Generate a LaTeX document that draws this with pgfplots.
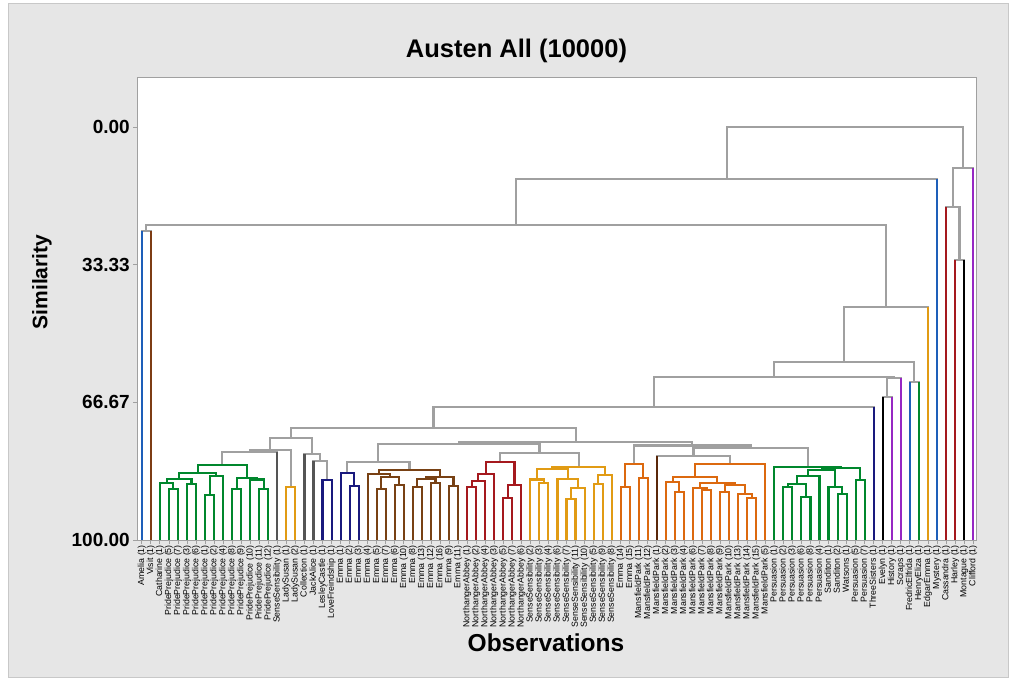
\documentclass[border=0pt]{standalone}
\usepackage{pgfplots}
\pgfplotsset{compat=1.18}
\usepackage{fontspec}
\setmainfont{Liberation Sans}
\definecolor{bggrey}{RGB}{230,230,230}
\definecolor{bordergrey}{RGB}{200,200,200}
\definecolor{framegrey}{RGB}{160,160,160}
\definecolor{lg}{RGB}{160,160,160}
\definecolor{blueC}{RGB}{30,95,185}
\definecolor{visitbrown}{RGB}{125,60,20}
\definecolor{greenC}{RGB}{0,135,45}
\definecolor{dgrey}{RGB}{85,85,85}
\definecolor{goldC}{RGB}{225,155,20}
\definecolor{navyC}{RGB}{25,25,125}
\definecolor{brownC}{RGB}{120,65,20}
\definecolor{redC}{RGB}{165,25,30}
\definecolor{orangeC}{RGB}{220,105,15}
\definecolor{dbrown}{RGB}{90,40,10}
\definecolor{purpleC}{RGB}{150,40,195}
% merge: colour, xL, hL, xR, hR, h
\newcommand{\M}[6]{\addplot[#1, line width=2.1pt, line join=miter, mark=none] coordinates {(#2,#3) (#2,#6) (#4,#6) (#4,#5)};}
% singleton leaf: colour, x, h
\newcommand{\V}[3]{\addplot[#1, line width=2.1pt, mark=none] coordinates {(#2,100) (#2,#3)};}
\begin{document}
\begin{tikzpicture}
\fill[white] (0pt,0pt) rectangle (1015pt,680pt);
\fill[bggrey, draw=bordergrey] (8pt,3pt) rectangle (1008pt,677pt);
\begin{axis}[
  at={(137.3pt,140pt)}, anchor=south west, scale only axis,
  width=839.4pt, height=462pt,
  xmin=0.5, xmax=93.4, ymin=-11.86, ymax=100, y dir=reverse,
  axis background/.style={fill=white},
  axis line style={draw=framegrey, line width=1pt},
  xtick={1,...,93},
  xticklabels={Amelia (1),Visit (1),Catharine (1),PridePrejudice (5),PridePrejudice (7),PridePrejudice (3),PridePrejudice (6),PridePrejudice (1),PridePrejudice (2),PridePrejudice (4),PridePrejudice (8),PridePrejudice (9),PridePrejudice (10),PridePrejudice (11),PridePrejudice (12),SenseSensibility (1),LadySusan (1),LadySusan (2),Collection (1),JackAlice (1),LesleyCastle (1),LoveFreindship (1),Emma (1),Emma (2),Emma (3),Emma (4),Emma (5),Emma (7),Emma (6),Emma (10),Emma (8),Emma (13),Emma (12),Emma (16),Emma (9),Emma (11),NorthangerAbbey (1),NorthangerAbbey (2),NorthangerAbbey (4),NorthangerAbbey (3),NorthangerAbbey (5),NorthangerAbbey (7),NorthangerAbbey (6),SenseSensibility (2),SenseSensibility (3),SenseSensibility (4),SenseSensibility (6),SenseSensibility (7),SenseSensibility (11),SenseSensibility (10),SenseSensibility (5),SenseSensibility (9),SenseSensibility (8),Emma (14),Emma (15),MansfieldPark (11),MansfieldPark (12),MansfieldPark (1),MansfieldPark (2),MansfieldPark (3),MansfieldPark (4),MansfieldPark (6),MansfieldPark (7),MansfieldPark (8),MansfieldPark (9),MansfieldPark (10),MansfieldPark (13),MansfieldPark (14),MansfieldPark (15),MansfieldPark (5),Persuasion (1),Persuasion (2),Persuasion (3),Persuasion (6),Persuasion (8),Persuasion (4),Sanditon (1),Sanditon (2),Watsons (1),Persuasion (5),Persuasion (7),ThreeSisters (1),Evelyn (1),History (1),Scraps (1),FredricElfrida (1),HenryEliza (1),EdgarEmma (1),Mystery (1),Cassandra (1),Harley (1),Montague (1),Clifford (1)},
  ytick={0,33.33,66.67,100}, yticklabels={0.00,33.33,66.67,100.00},
  tick align=outside, major tick length=4pt,
  tick style={draw=framegrey, line width=0.8pt},
  xtick pos=left, xticklabel pos=left, ytick pos=left,
  xticklabel style={rotate=90, anchor=east, font=\fontsize{8.8}{9}\selectfont, inner sep=1pt},
  yticklabel style={font=\fontsize{19}{20}\selectfont\bfseries},
]
% ---- grey links between clusters
\M{lg}{9.90625}{81.77}{16}{100}{78.77}
\M{lg}{12.953}{78.77}{17.5}{87.17}{78.28}
\M{lg}{20}{100}{21.5}{85.47}{80.87}
\M{lg}{19}{100}{20.75}{80.87}{79.10}
\M{lg}{15.227}{78.28}{19.875}{79.10}{75.23}
\M{lg}{23.75}{83.85}{30.625}{83.05}{81.04}
\M{lg}{40.6875}{81.04}{49.34375}{82.25}{79.01}
\M{lg}{27.1875}{81.04}{45.015625}{79.01}{76.76}
\M{lg}{58}{100}{66.109}{81.67}{79.61}
\M{lg}{62.055}{79.61}{74.6875}{82.25}{77.65}
\M{lg}{55.5}{81.55}{68.371}{77.65}{77.12}
\M{lg}{36.1016}{76.76}{61.936}{77.12}{76.34}
\M{lg}{17.551}{75.23}{49.019}{76.34}{72.81}
\M{lg}{33.285}{72.81}{82}{100}{67.72}
\M{lg}{83}{100}{84}{100}{65.45}
\M{lg}{83.5}{65.45}{85}{100}{60.85}
\M{lg}{57.6425}{67.72}{84.25}{60.85}{60.61}
\M{lg}{86}{100}{87}{100}{61.67}
\M{lg}{70.946}{60.61}{86.5}{61.67}{56.83}
\M{lg}{78.723}{56.83}{88}{100}{43.66}
\M{lg}{1}{100}{2}{100}{25.18}
\M{lg}{1.5}{25.18}{83.36}{43.66}{23.73}
\M{lg}{42.43}{23.73}{89}{100}{12.59}
\M{lg}{91}{100}{92}{100}{32.20}
\M{lg}{90}{100}{91.5}{32.20}{19.44}
\M{lg}{90.75}{19.44}{93}{100}{10.00}
\M{lg}{65.715}{12.59}{91.875}{10.00}{0}
% ---- Pride and Prejudice (green)
\M{greenC}{4}{100}{5}{100}{87.72}
\M{greenC}{3}{100}{4.5}{87.72}{86.27}
\M{greenC}{6}{100}{7}{100}{86.44}
\M{greenC}{3.75}{86.27}{6.5}{86.44}{85.30}
\M{greenC}{8}{100}{9}{100}{89.03}
\M{greenC}{8.5}{89.03}{10}{100}{84.50}
\M{greenC}{5.125}{85.30}{9.25}{84.50}{83.70}
\M{greenC}{11}{100}{12}{100}{87.72}
\M{greenC}{14}{100}{15}{100}{87.72}
\M{greenC}{13}{100}{14.5}{87.72}{85.35}
\M{greenC}{11.5}{87.72}{13.75}{85.35}{84.99}
\M{greenC}{7.1875}{83.70}{12.625}{84.99}{81.77}
% ---- Lady Susan, Lesley/Love, Emma 1-3
\M{goldC}{17}{100}{18}{100}{87.17}
\M{navyC}{21}{100}{22}{100}{85.47}
\M{navyC}{24}{100}{25}{100}{86.85}
\M{navyC}{23}{100}{24.5}{86.85}{83.85}
% ---- Emma (brown)
\M{brownC}{27}{100}{28}{100}{87.58}
\M{brownC}{29}{100}{30}{100}{86.76}
\M{brownC}{27.5}{87.58}{29.5}{86.76}{84.82}
\M{brownC}{26}{100}{28.5}{84.82}{84.02}
\M{brownC}{31}{100}{32}{100}{87.17}
\M{brownC}{33}{100}{34}{100}{86.13}
\M{brownC}{31.5}{87.17}{33.5}{86.13}{85.30}
\M{brownC}{35}{100}{36}{100}{87.00}
\M{brownC}{32.5}{85.30}{35.5}{87.00}{84.67}
\M{brownC}{27.25}{84.02}{34}{84.67}{83.05}
% ---- Northanger Abbey (red)
\M{redC}{37}{100}{38}{100}{87.17}
\M{redC}{37.5}{87.17}{39}{100}{85.71}
\M{redC}{38.25}{85.71}{40}{100}{84.09}
\M{redC}{41}{100}{42}{100}{89.90}
\M{redC}{41.5}{89.90}{43}{100}{86.68}
\M{redC}{39.125}{84.09}{42.25}{86.68}{81.04}
% ---- Sense and Sensibility (gold)
\M{goldC}{45}{100}{46}{100}{86.27}
\M{goldC}{44}{100}{45.5}{86.27}{85.35}
\M{goldC}{48}{100}{49}{100}{90.15}
\M{goldC}{48.5}{90.15}{50}{100}{87.48}
\M{goldC}{47}{100}{49.25}{87.48}{85.30}
\M{goldC}{51}{100}{52}{100}{86.51}
\M{goldC}{51.5}{86.51}{53}{100}{84.26}
\M{goldC}{44.75}{85.35}{48.125}{85.30}{82.81}
\M{goldC}{46.4375}{82.81}{52.25}{84.26}{82.25}
% ---- Emma 14-15 / MP 11-12 (orange)
\M{orangeC}{54}{100}{55}{100}{87.10}
\M{orangeC}{56}{100}{57}{100}{84.94}
\M{orangeC}{54.5}{87.10}{56.5}{84.94}{81.55}
% ---- Mansfield Park (orange)
\M{orangeC}{60}{100}{61}{100}{88.31}
\M{orangeC}{59}{100}{60.5}{88.31}{85.88}
\M{orangeC}{63}{100}{64}{100}{87.89}
\M{orangeC}{62}{100}{63.5}{87.89}{87.48}
\M{orangeC}{65}{100}{66}{100}{88.31}
\M{orangeC}{68}{100}{69}{100}{89.90}
\M{orangeC}{67}{100}{68.5}{89.90}{88.86}
\M{orangeC}{65.5}{88.31}{67.75}{88.86}{86.68}
\M{orangeC}{62.75}{87.48}{66.625}{86.68}{86.20}
\M{orangeC}{59.75}{85.88}{64.6875}{86.20}{84.82}
\M{orangeC}{62.21875}{84.82}{70}{100}{81.67}
% ---- Persuasion etc. (green)
\M{greenC}{72}{100}{73}{100}{87.10}
\M{greenC}{74}{100}{75}{100}{89.52}
\M{greenC}{72.5}{87.10}{74.5}{89.52}{86.44}
\M{greenC}{73.5}{86.44}{76}{100}{84.50}
\M{greenC}{78}{100}{79}{100}{88.86}
\M{greenC}{77}{100}{78.5}{88.86}{87.10}
\M{greenC}{74.75}{84.50}{77.75}{87.10}{83.05}
\M{greenC}{80}{100}{81}{100}{85.47}
\M{greenC}{76.25}{83.05}{80.5}{85.47}{82.64}
\M{greenC}{71}{100}{78.375}{82.64}{82.25}
% ---- single observations
\V{blueC}{1}{25.18}
\V{visitbrown}{2}{25.18}
\V{dgrey}{16}{78.77}
\V{dgrey}{19}{79.10}
\V{dgrey}{20}{80.87}
\V{dbrown}{58}{79.61}
\V{navyC}{82}{67.72}
\V{black}{83}{65.45}
\V{purpleC}{84}{65.45}
\V{purpleC}{85}{60.85}
\V{blueC}{86}{61.67}
\V{greenC}{87}{61.67}
\V{goldC}{88}{43.66}
\V{blueC}{89}{12.59}
\V{redC}{90}{19.44}
\V{redC}{91}{32.20}
\V{black}{92}{32.20}
\V{purpleC}{93}{10.00}
\end{axis}
\node[anchor=base, font=\fontsize{25.5}{27}\selectfont\bfseries] at (516.5pt,622pt) {Austen All (10000)};
\node[rotate=90, font=\fontsize{21}{22}\selectfont\bfseries] at (42pt,398pt) {Similarity};
\node[font=\fontsize{24.5}{25}\selectfont\bfseries] at (546pt,37pt) {Observations};
\end{tikzpicture}
\end{document}
